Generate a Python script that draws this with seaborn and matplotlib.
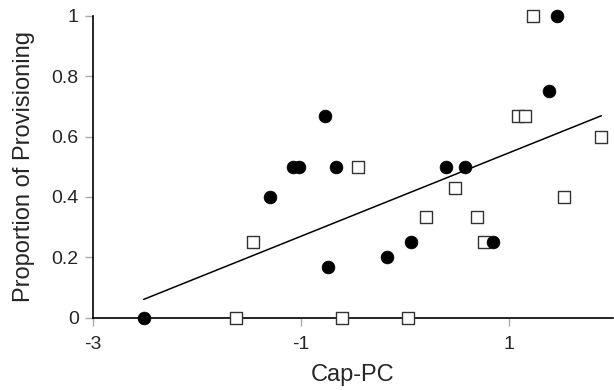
import numpy as np
import pandas as pd
import matplotlib
matplotlib.use("Agg")
import matplotlib.pyplot as plt
import seaborn as sns

# filled circles
circ_x = [-2.51, -1.30, -0.77, -1.07, -1.02, -0.66, -0.74, 1.46, 1.39, 0.40, 0.58, 0.06, -0.17, 0.85]
circ_y = [0.0, 0.40, 0.667, 0.5, 0.5, 0.5, 0.167, 1.0, 0.75, 0.5, 0.5, 0.25, 0.2, 0.25]

# open squares
sq_x = [-1.46, -1.62, -0.60, 0.03, -0.45, 1.23, 1.09, 1.16, 1.89, 0.48, 0.20, 0.69, 1.53, 0.76]
sq_y = [0.25, 0.0, 0.0, 0.0, 0.5, 1.0, 0.667, 0.667, 0.6, 0.429, 0.333, 0.333, 0.4, 0.25]

xticks = [-3, -1, 1]
yticks = [0, 0.2, 0.4, 0.6, 0.8, 1]

circ = pd.DataFrame({'x': circ_x, 'y': circ_y})
sq = pd.DataFrame({'x': sq_x, 'y': sq_y})
alld = pd.concat([circ, sq], ignore_index=True)

sns.set_style('white')
plt.rcParams['font.family'] = ['Liberation Sans', 'DejaVu Sans']

fig = plt.figure(figsize=(6.14, 3.9), dpi=100)
ax = fig.add_axes([0.151, 0.185, 0.847, 0.775])

# regression line over all points
sns.regplot(data=alld, x='x', y='y', ci=None, scatter=False, truncate=True,
            line_kws={'color': 'black', 'lw': 1.1}, ax=ax)

sns.scatterplot(data=sq, x='x', y='y', marker='s', s=70, color='white',
                edgecolor='#333333', linewidth=1.0, ax=ax, zorder=3, clip_on=False)
sns.scatterplot(data=circ, x='x', y='y', marker='o', s=85, color='black',
                edgecolor='black', linewidth=0.5, ax=ax, zorder=4, clip_on=False)

ax.set_xlim(-3, 2)
ax.set_ylim(0, 1)
ax.set_xticks(xticks)
ax.set_xticklabels([str(t) for t in xticks])
ax.set_yticks(yticks)
ax.set_yticklabels(['%g' % t for t in yticks])
ax.tick_params(axis='both', direction='out', length=6, width=1, color='#aaaaaa',
               labelsize=14, bottom=True, left=True)
ax.tick_params(axis='x', pad=7)
ax.tick_params(axis='y', pad=4)

sns.despine(ax=ax)
for s in ['left', 'bottom']:
    ax.spines[s].set_color('black')
    ax.spines[s].set_linewidth(1.2)

ax.set_xlabel('Cap-PC', fontsize=17, labelpad=8)
ax.set_ylabel('Proportion of Provisioning', fontsize=17, labelpad=12)

plt.savefig('out.png', dpi=100)
